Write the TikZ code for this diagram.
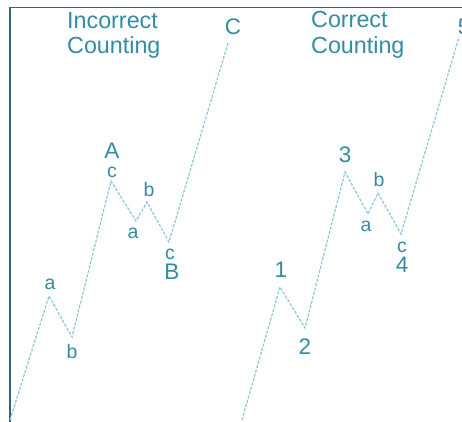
\documentclass[tikz,border=0pt]{standalone}
\usepackage{fontspec}
\setmainfont{Liberation Sans}
\definecolor{frame}{RGB}{42,104,124}
\definecolor{wave}{RGB}{140,200,216}
\definecolor{lbl}{RGB}{52,140,162}
\begin{document}
\begin{tikzpicture}[x=1pt,y=-1pt,
  waveline/.style={draw=wave,line width=1.2pt,dash pattern=on 3pt off 1.5pt},
  title/.style={text=lbl,inner sep=0pt,anchor=base west,font=\fontsize{23.3}{26}\selectfont},
  small/.style={text=lbl,inner sep=0pt,font=\fontsize{19.5}{22}\selectfont},
  big/.style={text=lbl,inner sep=0pt,font=\fontsize{22.5}{26}\selectfont}]
\useasboundingbox (0,0) rectangle (462,421);
\fill[white] (0,0) rectangle (462,421);
% frame
\draw[frame,line width=1.6pt] (10,425) -- (10,7.5) -- (470,7.5);
% titles
\node[title] (t1) at (67,28) {Incorrect};
\node[title] (t2) at (67,53) {Counting};
\node[title] (t3) at (311,27) {Correct};
\node[title] (t4) at (311,53) {Counting};
% left wave
\coordinate (L0) at (10,420);
\coordinate (L1) at (49,296);
\coordinate (L2) at (72,337);
\coordinate (L3) at (111,181);
\coordinate (L4) at (136,221);
\coordinate (L5) at (147,202);
\coordinate (L6) at (169,242);
\coordinate (L7) at (228,43);
\draw[waveline] (L0) -- (L1) -- (L2) -- (L3) -- (L4) -- (L5) -- (L6) -- (L7);
% right wave
\coordinate (R0) at (242,420);
\coordinate (R1) at (280,287);
\coordinate (R2) at (305,328);
\coordinate (R3) at (345,172);
\coordinate (R4) at (368,214);
\coordinate (R5) at (378,193);
\coordinate (R6) at (401,234);
\coordinate (R7) at (459,37);
\draw[waveline] (R0) -- (R1) -- (R2) -- (R3) -- (R4) -- (R5) -- (R6) -- (R7);
% left labels
\node[small] (la1) at (50,284) {a};
\node[small] (lb1) at (72,352) {b};
\node[big] (lA) at (112,151) {A};
\node[small] (lc1) at (112,172) {c};
\node[small] (la2) at (133,233) {a};
\node[small] (lb2) at (149,190) {b};
\node[small] (lc2) at (170,254) {c};
\node[big] (lB) at (172,272) {B};
\node[big] (lC) at (233,27) {C};
% right labels
\node[big] (r1) at (281,270) {1};
\node[big] (r2) at (305,347) {2};
\node[big] (r3) at (345,155) {3};
\node[small] (rb) at (379,180) {b};
\node[small] (ra) at (366,226) {a};
\node[small] (rc) at (402,247) {c};
\node[big] (r4) at (402,265) {4};
\node[big] (r5) at (464,27) {5};
\end{tikzpicture}
\end{document}
